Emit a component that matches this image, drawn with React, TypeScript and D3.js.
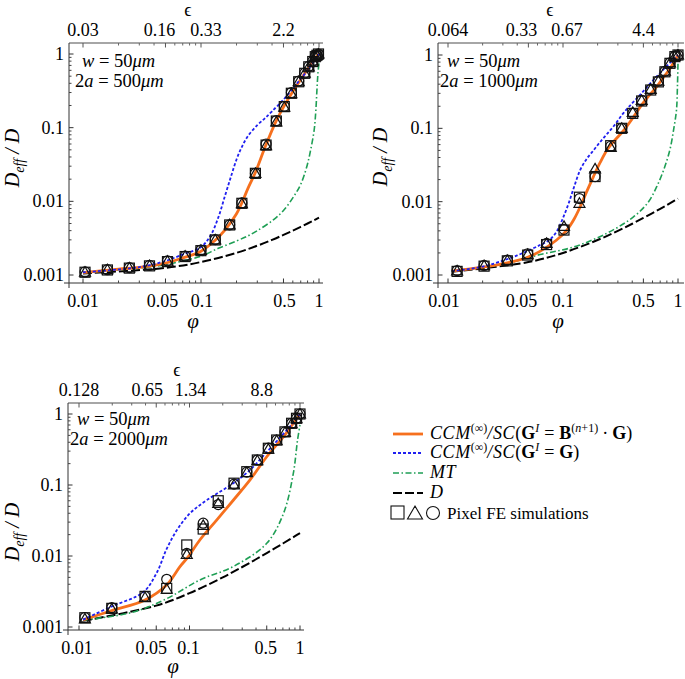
import React from "react";
import * as d3 from "d3";

// ---------- data ----------
const phiTicks = [0.01, 0.05, 0.1, 0.5, 1];
const phiTickLabels = ["0.01", "0.05", "0.1", "0.5", "1"];
const yTicks = [1, 0.1, 0.01, 0.001];
const yTickLabels = ["1", "0.1", "0.01", "0.001"];
const epsTicks = [0.01, 0.05, 0.1, 0.5];
const epsLabelsA = ["0.03", "0.16", "0.33", "2.2"];
const epsLabelsB = ["0.064", "0.33", "0.67", "4.4"];
const epsLabelsC = ["0.128", "0.65", "1.34", "8.8"];

// Panel A (2a = 500um)
const orangeA_phi = [0.01, 0.02, 0.03, 0.05, 0.07, 0.1, 0.13, 0.16, 0.2, 0.22, 0.25, 0.29, 0.35, 0.43, 0.5, 0.6, 0.7, 0.8, 0.9, 1];
const orangeA = [0.00108, 0.0012, 0.00127, 0.00145, 0.0017, 0.0021, 0.0029, 0.0041, 0.0068, 0.0092, 0.015, 0.025, 0.055, 0.12, 0.19, 0.31, 0.45, 0.62, 0.82, 1.0];
const blueA_phi = [0.01, 0.03, 0.05, 0.07, 0.1, 0.12, 0.14, 0.16, 0.18, 0.2, 0.22, 0.25, 0.3, 0.35, 0.4, 0.5, 0.6, 0.7, 0.8, 0.9, 1];
const blueA = [0.00109, 0.00128, 0.00155, 0.0019, 0.0024, 0.0034, 0.006, 0.012, 0.022, 0.037, 0.053, 0.077, 0.108, 0.135, 0.167, 0.24, 0.34, 0.46, 0.6, 0.78, 1.0];
const greenA_phi = [0.01, 0.03, 0.05, 0.07, 0.1, 0.14, 0.2, 0.25, 0.3, 0.41, 0.5, 0.61, 0.7, 0.79, 0.85, 0.91, 0.94, 0.96, 0.98, 1];
const greenA = [0.00108, 0.00124, 0.00138, 0.00155, 0.0018, 0.0023, 0.0029, 0.0034, 0.004, 0.0056, 0.0075, 0.0116, 0.017, 0.03, 0.05, 0.093, 0.17, 0.32, 0.55, 0.75];
const blackA_phi = [0.01, 0.05, 0.1, 0.2, 0.3, 0.4, 0.5, 0.6, 0.7, 0.8, 0.9, 1];
const blackA = [0.00105, 0.00125, 0.0015, 0.002, 0.0025, 0.003, 0.0035, 0.004, 0.0045, 0.005, 0.0055, 0.006];
const simA_phi = [0.0104, 0.0161, 0.0247, 0.0366, 0.052, 0.0734, 0.0998, 0.132, 0.175, 0.222, 0.289, 0.356, 0.435, 0.508, 0.583, 0.673, 0.757, 0.819, 0.885, 0.93, 0.96, 0.99];
const simA_sq = [0.00109, 0.00117, 0.00124, 0.00133, 0.00152, 0.00178, 0.00214, 0.00299, 0.00478, 0.0094, 0.024, 0.058, 0.123, 0.193, 0.293, 0.42, 0.547, 0.67, 0.79, 0.92, 0.96, 1.0];
const simA_tri = [0.00109, 0.00118, 0.00125, 0.00134, 0.00154, 0.0018, 0.00216, 0.003, 0.0048, 0.0093, 0.024, 0.057, 0.12, 0.19, 0.29, 0.42, 0.55, 0.67, 0.8, 0.92, 0.96, 1.0];
const simA_cir = [0.0011, 0.00118, 0.00126, 0.00135, 0.00156, 0.0018, 0.00218, 0.00302, 0.0048, 0.0095, 0.024, 0.06, 0.125, 0.195, 0.3, 0.43, 0.55, 0.68, 0.8, 0.93, 0.97, 1.0];

// Panel B (2a = 1000um)
const orangeB_phi = [0.0108, 0.02, 0.032, 0.048, 0.063, 0.088, 0.108, 0.125, 0.141, 0.16, 0.184, 0.21, 0.24, 0.28, 0.334, 0.4, 0.468, 0.55, 0.653, 0.75, 0.85, 0.93, 1];
const orangeB = [0.00113, 0.00128, 0.00145, 0.00172, 0.0021, 0.003, 0.0041, 0.0058, 0.0085, 0.0135, 0.022, 0.034, 0.05, 0.068, 0.092, 0.135, 0.195, 0.27, 0.37, 0.5, 0.65, 0.82, 1.0];
const blueB_phi = [0.0108, 0.02, 0.0322, 0.045, 0.063, 0.076, 0.088, 0.1, 0.112, 0.125, 0.141, 0.16, 0.184, 0.21, 0.24, 0.28, 0.334, 0.4, 0.468, 0.55, 0.653, 0.75, 0.85, 1];
const blueB = [0.00113, 0.0013, 0.00163, 0.002, 0.00256, 0.003, 0.0039, 0.006, 0.0095, 0.016, 0.027, 0.038, 0.05, 0.065, 0.083, 0.11, 0.16, 0.22, 0.285, 0.38, 0.51, 0.64, 0.78, 1.0];
const greenB_phi = [0.0108, 0.03, 0.063, 0.123, 0.24, 0.41, 0.55, 0.653, 0.75, 0.85, 0.92, 0.97, 0.99, 1];
const greenB = [0.00113, 0.0014, 0.0019, 0.0024, 0.0037, 0.0062, 0.0098, 0.016, 0.027, 0.051, 0.1, 0.178, 0.4, 0.8];
const blackB_phi = [0.0108, 0.05, 0.1, 0.2, 0.3, 0.4, 0.5, 0.6, 0.7, 0.8, 0.9, 1];
const blackB = [0.00111, 0.0015, 0.002, 0.003, 0.004, 0.005, 0.006, 0.007, 0.008, 0.009, 0.01, 0.011];
const simB_phi = [0.012, 0.0206, 0.0328, 0.0493, 0.072, 0.102, 0.139, 0.19, 0.26, 0.324, 0.404, 0.483, 0.579, 0.675, 0.77, 0.851, 0.94, 1.0];
const simB_sq = [0.00112, 0.00132, 0.00156, 0.00187, 0.0026, 0.0041, 0.0115, 0.022, 0.058, 0.1, 0.16, 0.236, 0.333, 0.43, 0.59, 0.77, 0.95, 1.0];
const simB_tri = [0.00114, 0.00134, 0.00158, 0.0019, 0.0027, 0.0046, 0.0095, 0.028, 0.055, 0.1, 0.165, 0.24, 0.34, 0.44, 0.6, 0.78, 0.96, 1.0];
const simB_cir = [0.00115, 0.00135, 0.0016, 0.00195, 0.0027, 0.0042, 0.011, 0.022, 0.057, 0.1, 0.16, 0.24, 0.34, 0.44, 0.6, 0.78, 0.96, 1.0];

// Panel C (2a = 2000um)
const orangeC_phi = [0.0109, 0.0198, 0.0396, 0.062, 0.082, 0.0976, 0.124, 0.176, 0.249, 0.353, 0.5, 0.71, 0.85, 1];
const orangeC = [0.00126, 0.0017, 0.0024, 0.0039, 0.0071, 0.0098, 0.0168, 0.032, 0.061, 0.118, 0.25, 0.48, 0.7, 1.0];
const blueC_phi = [0.0109, 0.0198, 0.0382, 0.0505, 0.062, 0.0767, 0.101, 0.143, 0.249, 0.353, 0.5, 0.71, 0.85, 1];
const blueC = [0.00127, 0.00195, 0.0031, 0.0058, 0.0125, 0.023, 0.04, 0.061, 0.106, 0.163, 0.29, 0.53, 0.72, 1.0];
const greenC_phi = [0.0109, 0.03, 0.062, 0.124, 0.249, 0.5, 0.71, 0.87, 0.95, 1];
const greenC = [0.00125, 0.0016, 0.0025, 0.0046, 0.0071, 0.0151, 0.04, 0.146, 0.43, 0.7];
const blackC_phi = [0.0109, 0.05, 0.1, 0.2, 0.3, 0.4, 0.5, 0.6, 0.7, 0.8, 0.9, 1];
const blackC = [0.00122, 0.002, 0.003, 0.005, 0.007, 0.009, 0.011, 0.013, 0.015, 0.017, 0.019, 0.021];
const simC_phi = [0.0113, 0.0198, 0.0396, 0.0622, 0.0945, 0.133, 0.182, 0.253, 0.33, 0.411, 0.517, 0.615, 0.731, 0.84, 0.93, 1.0];
const simC_sq = [0.00135, 0.00183, 0.0027, 0.0035, 0.0143, 0.024, 0.06, 0.106, 0.154, 0.225, 0.329, 0.43, 0.56, 0.74, 0.87, 1.0];
const simC_tri = [0.0013, 0.0018, 0.0026, 0.0034, 0.0105, 0.027, 0.055, 0.1, 0.15, 0.22, 0.32, 0.42, 0.55, 0.73, 0.86, 1.0];
const simC_cir = [0.00136, 0.00188, 0.0027, 0.0047, 0.0109, 0.029, 0.053, 0.103, 0.152, 0.225, 0.33, 0.43, 0.56, 0.74, 0.87, 1.0];

const ORANGE = "#f6701e";
const BLUE = "#2020f0";
const GREEN = "#1f9f55";
const SERIF = "'Liberation Serif', 'DejaVu Serif', serif";

type Geo = {
  axisX: number; xLeftEnd: number; xRightEnd: number; x01: number; x1: number;
  axisBottom: number; axisTop: number; y1: number; y0001: number;
  yLabel: [number, number]; phiLabel: [number, number]; epsLabel: [number, number];
  ann: [number, number, number];
  phiDx: number[]; epsDx: number[];
};

function zip(a: number[], b: number[]) {
  return a.map((v, i) => [v, b[i]] as [number, number]);
}

function Panel(props: {
  geo: Geo; epsLabels: string[]; twoA: string;
  orange: [number, number][]; blue: [number, number][]; green: [number, number][]; black: [number, number][];
  simPhi: number[]; sq: number[]; tri: number[]; cir: number[];
}) {
  const g = props.geo;
  const x = d3.scaleLog().domain([0.01, 1]).range([g.x01, g.x1]);
  const y = d3.scaleLog().domain([0.001, 1]).range([g.y0001, g.y1]);
  const line = d3.line<[number, number]>().x(d => x(d[0])).y(d => y(d[1])).curve(d3.curveCatmullRom.alpha(0.5));
  const minorX: number[] = [];
  [0.01, 0.1].forEach(b => { for (let k = 2; k <= 9; k++) if (k !== 5) minorX.push(b * k); });
  const minorY: number[] = [];
  [0.001, 0.01, 0.1].forEach(b => { for (let k = 2; k <= 9; k++) minorY.push(b * k); });
  const fs = 18;
  return (
    <g>
      {/* axes */}
      <line x1={g.xLeftEnd} x2={g.xRightEnd} y1={g.axisBottom} y2={g.axisBottom} stroke="#333" strokeWidth={1} />
      <line x1={g.axisX} x2={g.xRightEnd} y1={g.axisTop} y2={g.axisTop} stroke="#888" strokeWidth={1.4} />
      <line x1={g.axisX} x2={g.axisX} y1={g.axisTop} y2={g.axisBottom + 5} stroke="#333" strokeWidth={1} />
      {phiTicks.map((t, i) => (
        <g key={"xt" + i}>
          <line x1={x(t)} x2={x(t)} y1={g.axisBottom} y2={g.axisBottom - 4.5} stroke="#333" />
          <line x1={x(t)} x2={x(t)} y1={g.axisTop} y2={g.axisTop + 4.5} stroke="#555" />
          <text x={x(t) + g.phiDx[i]} y={g.axisBottom + 24} fontSize={fs} textAnchor="middle" fontFamily={SERIF}>{phiTickLabels[i]}</text>
        </g>
      ))}
      {minorX.map((t, i) => (
        <g key={"xm" + i}>
          <line x1={x(t)} x2={x(t)} y1={g.axisBottom} y2={g.axisBottom - 2.5} stroke="#444" />
          <line x1={x(t)} x2={x(t)} y1={g.axisTop} y2={g.axisTop + 2.5} stroke="#666" />
        </g>
      ))}
      {epsTicks.map((t, i) => (
        <text key={"et" + i} x={x(t) + g.epsDx[i]} y={g.axisTop - 7} fontSize={fs} textAnchor="middle" fontFamily={SERIF}>{props.epsLabels[i]}</text>
      ))}
      {yTicks.map((t, i) => (
        <g key={"yt" + i}>
          <line x1={g.axisX} x2={g.axisX + 4.5} y1={y(t)} y2={y(t)} stroke="#333" />
          <text x={g.axisX - 5} y={y(t) + 6} fontSize={fs} textAnchor="end" fontFamily={SERIF}>{yTickLabels[i]}</text>
        </g>
      ))}
      {minorY.map((t, i) => (
        <line key={"ym" + i} x1={g.axisX} x2={g.axisX + 2.5} y1={y(t)} y2={y(t)} stroke="#444" />
      ))}
      {/* labels */}
      <text x={g.epsLabel[0]} y={g.epsLabel[1]} fontSize={18} textAnchor="middle" fontFamily={SERIF}>ϵ</text>
      <text x={g.phiLabel[0]} y={g.phiLabel[1]} fontSize={21} textAnchor="middle" fontFamily={SERIF} fontStyle="italic">φ</text>
      <text transform={`translate(${g.yLabel[0]},${g.yLabel[1]}) rotate(-90)`} fontSize={20} textAnchor="middle" fontFamily={SERIF} fontStyle="italic">
        D<tspan fontSize={14} dy={5}>eff</tspan><tspan dy={-5}> / D</tspan>
      </text>
      <text x={g.ann[0] + 7} y={g.ann[1]} fontSize={18.5} fontFamily={SERIF}>
        <tspan fontStyle="italic">w</tspan> = 50<tspan fontStyle="italic">μm</tspan>
      </text>
      <text x={g.ann[0]} y={g.ann[2]} fontSize={18.5} fontFamily={SERIF}>
        2<tspan fontStyle="italic">a</tspan> = {props.twoA}<tspan fontStyle="italic">μm</tspan>
      </text>
      {/* curves */}
      <path d={line(props.black) || ""} fill="none" stroke="#000" strokeWidth={2} strokeDasharray="9,3" />
      <path d={line(props.green) || ""} fill="none" stroke={GREEN} strokeWidth={1.6} strokeDasharray="6,2.5,1.5,2.5" />
      <path d={line(props.orange) || ""} fill="none" stroke={ORANGE} strokeWidth={2.8} />
      <path d={line(props.blue) || ""} fill="none" stroke={BLUE} strokeWidth={1.8} strokeDasharray="3,2" />
      {/* markers */}
      {props.simPhi.map((p, i) => (
        <g key={"m" + i} fill="none" stroke="#111" strokeWidth={1.2}>
          <rect x={x(p) - 5} y={y(props.sq[i]) - 5} width={10} height={10} />
          <path d={`M${x(p)},${y(props.tri[i]) - 5.5} L${x(p) + 5.5},${y(props.tri[i]) + 4} L${x(p) - 5.5},${y(props.tri[i]) + 4} Z`} />
          <circle cx={x(p)} cy={y(props.cir[i])} r={5} />
        </g>
      ))}
    </g>
  );
}

const geoA: Geo = {
  axisX: 69, xLeftEnd: 64, xRightEnd: 323, x01: 83, x1: 319,
  axisBottom: 283, axisTop: 43, y1: 54, y0001: 275,
  yLabel: [19, 158], phiLabel: [193, 328], epsLabel: [188, 16], ann: [75, 67, 87],
  phiDx: [0, -3, 1, 1, 0], epsDx: [0, -6, 5, 0],
};
const geoB: Geo = {
  axisX: 438, xLeftEnd: 433, xRightEnd: 684, x01: 448, x1: 678,
  axisBottom: 283, axisTop: 43, y1: 55, y0001: 275,
  yLabel: [387, 157], phiLabel: [558, 328], epsLabel: [550, 16], ann: [440, 67, 87],
  phiDx: [-4, -7, 0, 0, 0], epsDx: [0, -7, 4, 0],
};
const geoC: Geo = {
  axisX: 68, xLeftEnd: 63, xRightEnd: 304, x01: 79, x1: 300,
  axisBottom: 630, axisTop: 403, y1: 414, y0001: 627,
  yLabel: [19, 532], phiLabel: [173, 673], epsLabel: [177, 376], ann: [70, 425, 445],
  phiDx: [-2, -5, -1, -1, 0], epsDx: [0, -9, 1, -5],
};

function Legend() {
  const x0 = 393, x1 = 423, tx = 430;
  const rows = [434, 453, 473, 493, 513];
  const fs = 18;
  const sup = 12;
  return (
    <g fontFamily={SERIF} fontSize={fs}>
      <line x1={x0} x2={x1} y1={rows[0]} y2={rows[0]} stroke={ORANGE} strokeWidth={2.8} />
      <text x={tx} y={rows[0] + 5}>
        <tspan fontStyle="italic" letterSpacing={0.6}>CCM</tspan><tspan fontSize={sup} dy={-7}>(∞)</tspan><tspan dy={7} fontStyle="italic" letterSpacing={0.6}>/SC</tspan>(<tspan fontWeight="bold">G</tspan><tspan fontSize={sup} dy={-7} fontStyle="italic">I</tspan><tspan dy={7} dx={5}>=</tspan><tspan dx={5} fontWeight="bold">B</tspan><tspan fontSize={sup} dy={-7}>(<tspan fontStyle="italic">n</tspan>+1)</tspan><tspan dy={7} dx={4}>·</tspan><tspan dx={4} fontWeight="bold">G</tspan>)
      </text>
      <line x1={x0} x2={x1} y1={rows[1]} y2={rows[1]} stroke={BLUE} strokeWidth={1.8} strokeDasharray="3,2" />
      <text x={tx} y={rows[1] + 5}>
        <tspan fontStyle="italic" letterSpacing={0.6}>CCM</tspan><tspan fontSize={sup} dy={-7}>(∞)</tspan><tspan dy={7} fontStyle="italic" letterSpacing={0.6}>/SC</tspan>(<tspan fontWeight="bold">G</tspan><tspan fontSize={sup} dy={-7} fontStyle="italic">I</tspan><tspan dy={7} dx={5}>=</tspan><tspan dx={5} fontWeight="bold">G</tspan>)
      </text>
      <line x1={x0} x2={x1} y1={rows[2]} y2={rows[2]} stroke={GREEN} strokeWidth={1.6} strokeDasharray="6,2.5,1.5,2.5" />
      <text x={tx} y={rows[2] + 5} fontStyle="italic" letterSpacing={0.6}>MT</text>
      <line x1={x0} x2={x1} y1={rows[3]} y2={rows[3]} stroke="#000" strokeWidth={2} strokeDasharray="9,3" />
      <text x={tx} y={rows[3] + 5} fontStyle="italic">D</text>
      <g fill="none" stroke="#111" strokeWidth={1.1}>
        <rect x={391} y={rows[4] - 7} width={13} height={13} />
        <path d={`M415,${rows[4] - 7} L422.5,${rows[4] + 6} L407.5,${rows[4] + 6} Z`} />
        <circle cx={433} cy={rows[4]} r={6.5} />
      </g>
      <text x={447} y={rows[4] + 6} fontSize={17}>Pixel FE simulations</text>
    </g>
  );
}

export default function App() {
  return (
    <svg width={685} height={679} style={{ position: "absolute", left: 0, top: 0, background: "#fff" }}>
      <rect width={685} height={679} fill="#fff" />
      <Panel geo={geoA} epsLabels={epsLabelsA} twoA="500"
        orange={zip(orangeA_phi, orangeA)} blue={zip(blueA_phi, blueA)} green={zip(greenA_phi, greenA)} black={zip(blackA_phi, blackA)}
        simPhi={simA_phi} sq={simA_sq} tri={simA_tri} cir={simA_cir} />
      <Panel geo={geoB} epsLabels={epsLabelsB} twoA="1000"
        orange={zip(orangeB_phi, orangeB)} blue={zip(blueB_phi, blueB)} green={zip(greenB_phi, greenB)} black={zip(blackB_phi, blackB)}
        simPhi={simB_phi} sq={simB_sq} tri={simB_tri} cir={simB_cir} />
      <Panel geo={geoC} epsLabels={epsLabelsC} twoA="2000"
        orange={zip(orangeC_phi, orangeC)} blue={zip(blueC_phi, blueC)} green={zip(greenC_phi, greenC)} black={zip(blackC_phi, blackC)}
        simPhi={simC_phi} sq={simC_sq} tri={simC_tri} cir={simC_cir} />
      <Legend />
    </svg>
  );
}
